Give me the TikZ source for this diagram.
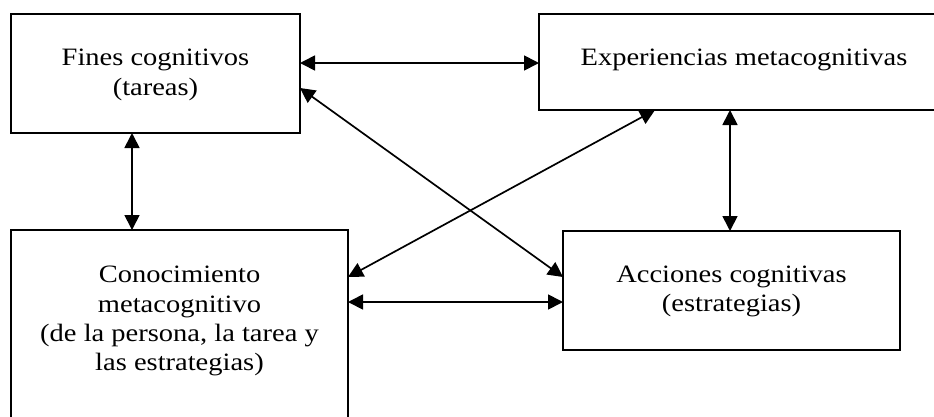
\documentclass[tikz,border=0pt]{standalone}
\usepackage{fontspec}
\setmainfont[FakeStretch=1.14]{Liberation Serif}
\usetikzlibrary{arrows.meta}
\tikzset{
  box/.style={draw=black, line width=1.8pt, rectangle, inner sep=0pt, outer sep=0pt},
  lbl/.style={anchor=base, inner sep=0pt, font=\fontsize{25}{30}\selectfont},
  arr/.style={line width=1.7pt, {Triangle[length=15pt,width=15pt]}-{Triangle[length=15pt,width=15pt]}}
}
\begin{document}
\begin{tikzpicture}[x=1pt,y=-1pt]
\useasboundingbox (0,0) rectangle (934,416);
\clip (0,0) rectangle (934,416);
\node[box, minimum width=289pt, minimum height=119pt] (A) at (155.5,73.5) {};
\node[box, minimum width=410pt, minimum height=96pt] (B) at (744,62) {};
\node[box, minimum width=337pt, minimum height=200pt] (C) at (179.5,330) {};
\node[box, minimum width=337pt, minimum height=119pt] (D) at (731.5,290.5) {};
% labels
\node[lbl] (A1) at (155.5,65) {Fines cognitivos};
\node[lbl] (A2) at (155.5,95) {(tareas)};
\node[lbl] (B1) at (744,65) {Experiencias metacognitivas};
\node[lbl] (C1) at (179.5,282) {Conocimiento};
\node[lbl] (C2) at (179.5,312) {metacognitivo};
\node[lbl] (C3) at (179.5,341) {(de la persona, la tarea y};
\node[lbl] (C4) at (179.5,370) {las estrategias)};
\node[lbl] (D1) at (731.5,282) {Acciones cognitivas};
\node[lbl] (D2) at (731.5,311) {(estrategias)};
% connector end points
\coordinate (ab) at ([yshift=10.5pt]A.east);
\coordinate (ac) at ([xshift=-23.5pt]A.south);
\coordinate (cd) at ([yshift=28pt]C.east);
% connectors
\draw[arr] (ab) -- (B.west |- ab);
\draw[arr] (ac) -- (C.north -| ac);
\draw[arr] ([xshift=-14pt]B.south) -- ([xshift=-1.5pt]D.north);
\draw[arr] (cd) -- (D.west |- cd);
\draw[arr] ([yshift=-14.5pt]A.east) -- ([yshift=13.5pt]D.west);
\draw[arr] ([xshift=-89pt]B.south) -- ([yshift=53pt]C.east);
\end{tikzpicture}
\end{document}
